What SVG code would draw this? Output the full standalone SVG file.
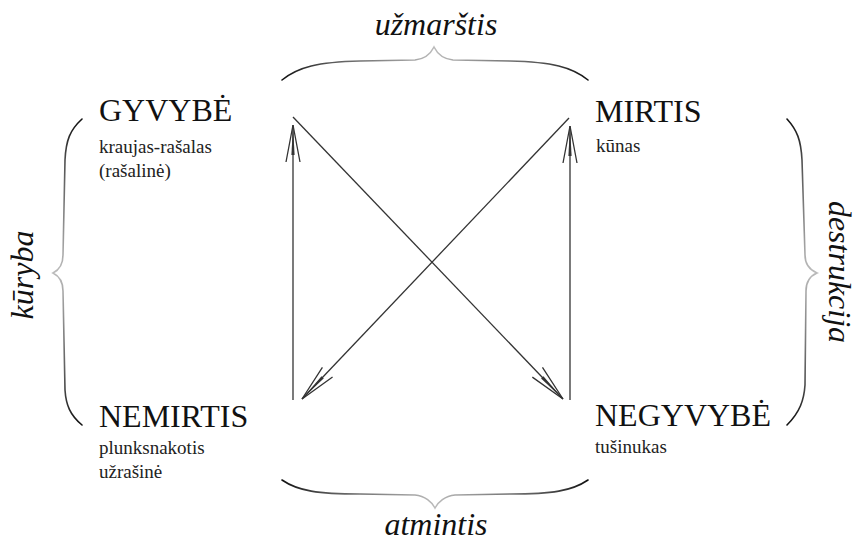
<svg xmlns="http://www.w3.org/2000/svg" width="860" height="542" viewBox="0 0 860 542" font-family="'Liberation Serif', Tinos, 'Times New Roman', Times, 'Nimbus Roman', 'Nimbus Roman No9 L', 'DejaVu Serif', 'Noto Serif', FreeSerif, serif">
<style>
text{font-family:'Liberation Serif',Tinos,'Times New Roman',Times,'Nimbus Roman','Nimbus Roman No9 L','DejaVu Serif','Noto Serif',FreeSerif,serif;fill:#111}
.big{font-size:32px}
.sub{font-size:19px;fill:#222}
.it{font-style:italic;font-size:32px}
.c{stroke:#333;stroke-width:1.3;fill:none}
.br{fill:none;stroke-width:1.6;stroke-linecap:round}
</style>
<defs>
<marker id="ah" markerUnits="userSpaceOnUse" markerWidth="44" markerHeight="20" viewBox="-40 -10 44 20" refX="0" refY="0" orient="auto">
<path d="M-37,-7 L0,0 L-37,7" fill="none" stroke="#333" stroke-width="1.3"/>
<path d="M-30,-1.6 L0,0 L-30,1.6 Z" fill="#333"/>
</marker>
<linearGradient id="gh" gradientUnits="userSpaceOnUse" x1="282" y1="0" x2="588" y2="0">
<stop offset="0" stop-color="#111"/><stop offset="0.15" stop-color="#555"/><stop offset="0.5" stop-color="#bbb"/><stop offset="0.85" stop-color="#555"/><stop offset="1" stop-color="#111"/>
</linearGradient>
<linearGradient id="gv" gradientUnits="userSpaceOnUse" x1="0" y1="119" x2="0" y2="425">
<stop offset="0" stop-color="#111"/><stop offset="0.15" stop-color="#555"/><stop offset="0.5" stop-color="#bbb"/><stop offset="0.85" stop-color="#555"/><stop offset="1" stop-color="#111"/>
</linearGradient>
</defs>
<rect width="860" height="542" fill="#fff"/>
<g id="connectors">
<line class="c" x1="293" y1="400" x2="293" y2="125" marker-end="url(#ah)"/>
<line class="c" x1="570" y1="400" x2="570" y2="126" marker-end="url(#ah)"/>
<line class="c" x1="293" y1="117" x2="563" y2="399" marker-end="url(#ah)"/>
<line class="c" x1="569" y1="118" x2="302" y2="399" marker-end="url(#ah)"/>
</g>
<g id="braces">
<path class="br" stroke="url(#gh)" d="M282,80 C298,67 318,62 360,61 L415,60 C425,59 431,53 434,47 C437,53 443,59 453,60 L510,61 C552,62 572,67 588,80"/>
<path class="br" stroke="url(#gh)" d="M282,480 C298,491 318,494 360,494 L415,495 C425,496 432,502 435,508 C438,502 445,496 455,495 L510,494 C552,494 572,491 588,480"/>
<path class="br" stroke="url(#gv)" d="M82,119 C70,130 66,140 65,160 L63,255 C63,265 59,270 53,273 C59,276 63,281 63,291 L65,390 C66,405 70,415 82,425"/>
<path class="br" stroke="url(#gv)" d="M787,119 C797,130 801,140 802,160 L805,255 C805,265 810,270 817,273 C810,276 806,281 806,291 L805,385 C804,400 800,412 787,425"/>
</g>
<g id="gyvybe">
<text class="big" x="99" y="121">GYVYBĖ</text>
<text class="sub" x="99" y="153">kraujas-rašalas</text>
<text class="sub" x="99" y="177">(rašalinė)</text>
</g>
<g id="mirtis">
<text class="big" x="595" y="122">MIRTIS</text>
<text class="sub" x="596" y="152">kūnas</text>
</g>
<g id="nemirtis">
<text class="big" x="99" y="427">NEMIRTIS</text>
<text class="sub" x="99" y="454">plunksnakotis</text>
<text class="sub" x="99" y="478">užrašinė</text>
</g>
<g id="negyvybe">
<text class="big" x="595" y="426">NEGYVYBĖ</text>
<text class="sub" x="595" y="453">tušinukas</text>
</g>
<g id="labels">
<text class="it" x="436" y="35" text-anchor="middle">užmarštis</text>
<text class="it" x="436" y="535" text-anchor="middle">atmintis</text>
<text class="it" x="0" y="0" text-anchor="middle" transform="translate(33,275) rotate(-90)">kūryba</text>
<text class="it" x="0" y="0" text-anchor="middle" transform="translate(829,272) rotate(90)">destrukcija</text>
</g>
</svg>
